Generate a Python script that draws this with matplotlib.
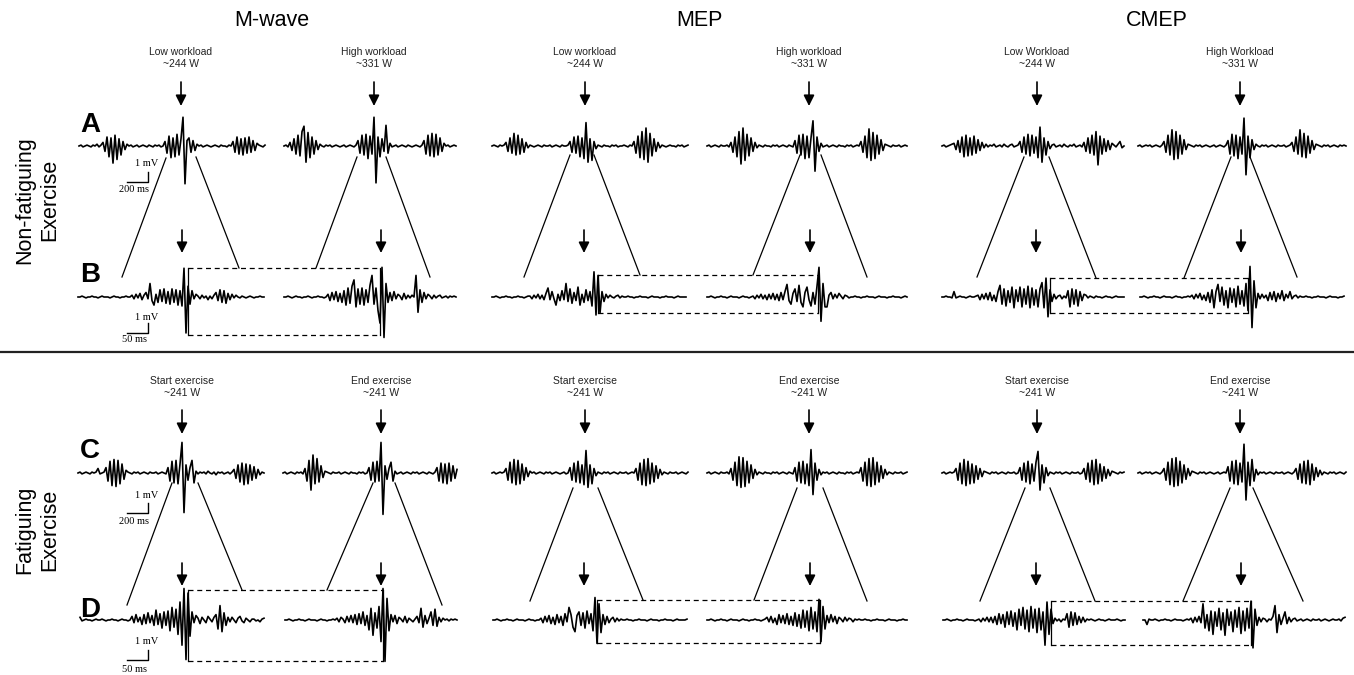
import numpy as np
import matplotlib.pyplot as plt

plt.rcParams['font.family'] = ['Liberation Sans', 'DejaVu Sans']

# --- labels ---
columns = ['M-wave', 'MEP', 'CMEP']
row_names = ['Non-fatiguing\nExercise', 'Fatiguing\nExercise']
panel_letters = ['A', 'B', 'C', 'D']
top_labels = ['Low workload\n~244 W', 'High workload\n~331 W',
              'Low workload\n~244 W', 'High workload\n~331 W',
              'Low Workload\n~244 W', 'High Workload\n~331 W']
bottom_labels = ['Start exercise\n~241 W', 'End exercise\n~241 W'] * 3

# --- EMG traces (mV), row A/C: 20 ms per sample, row B/D: 5 ms per sample ---
mw_low_a = [0, .1, -.1, 0, .1, 0, -.1, .1, 0, .2, -.1, .1,
            .4, -.6, 1.0, -1.2, .9, -1.9, 1.2, -1.5, .8, -1.0, .5, -.4, .2,
            0, .1, -.1, 0, .1, -.1, 0, .1, 0, -.1, .1, 0, -.1, .1, 0, .1, -.1, 0,
            .5, -.8, 1.1, -1.3, .9, -1.2, 1.3, -1.0, .8, 3.2, -4.2, .6,
            .9, -.7, .6, -.5, .2,
            0, .1, -.1, 0, .1, 0, -.1, 0, .1, 0, -.1, .1, 0, 0, -.1, .1, 0,
            .5, -.7, 1.0, -.9, .8, -1.0, .9, -.8, 1.0, -.7, .6, -.5, .3,
            .1, 0, -.1, .1]
mw_high_a = [0, .1, -.1,
             .4, -.5, .8, -.9, 1.2, -1.1, 1.6, 2.2, -1.8, 1.5, -1.3, 1.0, -.9, .6, -.4, .2,
             0, -.1, .1, 0, .1, -.1, 0, .1, 0, -.1, 0, .1, -.1, 0, .1, 0, -.1, .1,
             .6, -.8, 1.2, -1.0, 1.3, -1.4, 1.1, -.9, 3.2, -4.1, 1.0, -1.2, .8, -.6, 2.3, -.8,
             .3, -.1, 0, .1, -.1, 0, .1, 0, -.1, .1, 0, -.1, 0, .1, 0, -.1, .1,
             .6, -.9, 1.2, -1.1, 1.4, -1.2, 1.3, -1.0, .9, -.6, .3,
             0, .1, -.1, 0, .1, 0]
mep_low_a = [0, .1, 0, -.1, .1, 0, .1,
             .4, -.6, .9, -.8, 1.4, -1.0, 1.2, -.9, .8, -.7, .4, -.2,
             .1, 0, -.1, 0, .1, 0, -.1, .1, 0, 0, .1, -.1, 0, .1, 0, -.1, .1, 0, 0, .1,
             .5, -.7, 1.0, -.8, 1.1, -1.2, .9, -1.4, 2.6, -1.8, .8, -1.6, .5, -.3,
             .1, 0, -.1, .1, 0, 0, -.1, .1, 0, .1, -.1, 0, 0, .1, 0, -.1, .1, 0,
             .5, -.8, 1.1, -1.3, 1.6, -1.5, 2.0, -1.8, 1.4, -1.1, .8, -.6, .4, -.2,
             .1, 0, -.1, 0, .1, 0, 0, -.1, .1, 0, .1, -.1, 0, .1]
mep_high_a = [0, .1, -.1, 0, .1, 0, -.1, .1, 0, 0, .1, -.1,
              .4, -.7, 1.0, -1.2, 1.6, -2.0, 2.0, -1.6, 1.3, -1.1, .9, -.6, .4, -.2,
              .1, 0, -.1, .1, 0, 0, -.1, .1, 0, .1, -.1, 0, .1, 0, -.1, .1, 0, -.1,
              .6, -.8, 1.2, -1.0, 1.3, -1.4, 1.1, -1.3, .9, 2.8, -2.8, 1.0, -.6,
              .3, -.1, 0, .1, -.1, 0, .1, 0, -.1, .1, 0, 0, -.1, .1, 0, .1, -.1, 0, .1, 0,
              .5, -.7, 1.1, -1.3, 1.9, -1.6, 1.5, -1.4, 1.2, -.9, .7, -.5, .2,
              .1, 0, -.1, .1, 0, 0, .1, -.1, 0, .1, 0]
cmep_low_a = [0, .1, -.1, 0, .1, .2,
              .3, -.4, .6, -.7, 1.0, -1.2, 1.2, -1.1, .9, -1.0, 1.1, -.8, .7, -.5, .4, -.2,
              .2, -.1, .1, 0, .2, -.1, 0, .1, -.1, .2, 0, -.1, .1, .2, -.1, 0, .1,
              .5, -.7, 1.0, -.9, 1.3, -1.1, 1.2, -.8, 1.0, -1.3, 2.1, -1.8, .9, -1.0, .5, -.3,
              .1, .2, -.1, 0, .1, -.1, .2, 0, -.1, .1, 0, .2, -.1, 0, .1, -.1,
              .4, -.6, .9, -.8, 1.2, -1.0, 1.6, -2.1, 1.1, -.9, .8, -.6, .6, -.4, .3,
              .1, -.1, .2, .5, -.2, 0]
cmep_high_a = [0, .1, -.1, 0, .1, 0, .1, -.1, 0, .1, 0, -.1, .1,
               .5, -.7, 1.2, -1.0, 1.8, -1.5, 1.6, -1.4, 1.2, -.9, .7, -.4, .2,
               .1, 0, -.1, .1, 0, .1, -.1, 0, .1, 0, -.1, 0, .1, -.1, 0, .1, 0, -.1, .1,
               .6, -.9, 1.3, -1.1, 1.2, -1.4, 1.0, -.9, 3.1, -3.2, 1.1, -1.3, .7, -.4,
               .2, 0, -.1, .1, 0, .1, -.1, 0, .1, 0, -.1, .1, 0, 0, .1, -.1, 0, .1,
               .4, -.6, 1.0, -.9, 1.8, -1.2, 1.4, -1.3, 1.1, -.8, .6, -.4, .2,
               .1, 0, -.1, .1, 0, .1, -.1, 0, .1, 0, -.1, .1, 0, .1, 0]

mw_low_b = [0, 0, .1, 0, -.1, 0, 0, .1, 0, 0, -.1, 0, .1, 0, 0, 0, -.1, 0, .1, 0, 0, -.1, 0, 0, .1, 0, 0,
            .2, -.2, .3, -.1, .4, -.3, .2, .5, -.2,
            1.5, -.4, -.9, .3, -.6, .8, -.5, .9, -.7, .6,
            -.8, .9, -.6, .8, -.9, .7, -1.0,
            3.2, -4.0, 1.2, -.8,
            .7, -.2, .3, .1, -.2, .2, -.1, .1, -.3, .1, -.2, .2,
            .5, -.4, .8, -.6, .7, -.7, .4, -.3, .3,
            -.1, .2, 0, -.1, .1, 0, -.1, 0, .1, 0, -.1, 0, 0, .1, 0, 0]
mw_high_b = [0, 0, .1, 0, -.1, 0, .1, 0, 0, -.1, 0, 0, .1, 0, -.1, 0, 0, .1, 0, 0, -.1, 0,
             .3, -.4, .5, -.3, .6, -.5, .4, -.6, .7,
             -.9, 1.0, -.7, 1.2, 1.9, -1.1, .9, -.8, 1.0, -.9, .8, -.6, 1.3,
             2.4, -.8, 1.0, -1.5, -2.9, 3.3, -4.5, 1.5, -.6,
             .5, -.4, .6, -.2, .3, .1, -.3, .4, -.2, .2,
             -.1, .2, 0,
             2.4, -1.7, .8, -.6, .5,
             -.2, .3, .1, -.2, .2, -.1, .1, .2, -.1, 0, .1, -.1, .1, 0, .1, 0]
mep_low_b = [0, 0, .1, 0, -.1, 0, 0, .1, 0, 0, -.1, 0, 0, .1, 0, 0, -.1, 0, .1,
             .1, -.2, .2, -.1, .3, -.2, .2, -.3, .4,
             1.0, -.3, .6, -.2, -.9, .3, -.4, .7, -.3, 1.5, -.5, .9, -.7, .5, -.4,
             1.1, -.9, .3, -.6, .8, -.4, .6, -1.0,
             2.8, -2.0, 2.4, -1.8, .6, -.5,
             .3, -.1, .2, 0, -.1, .1, .2, -.1, .1, 0,
             0, .1, 0, 0, -.1, 0, 0, .1, 0, 0, 0, -.1, 0, .1, 0, 0, 0, -.1, 0, 0, .1, 0, 0, 0,
             -.1, 0, .1, 0, 0, 0, 0]
mep_high_b = [0, 0, .1, 0, -.1, 0, 0, .1, 0, 0, -.1, 0, .1, 0, 0, 0, -.1, 0, .1, 0, 0, -.1, 0,
              .1, -.2, .2, -.1, .3, -.2, .2, -.3, .3, -.2, .4, -.3, .3, -.4, .5, -.3,
              .6, 1.4, -.4, -.8, .4, .9, -.5, 1.3, -.6, -1.1, .5, 1.1, -.3, -1.0, .5, -.8, 1.2,
              3.3, -2.7, 1.5, -1.1, -1.1, .2, .5, -.2, .3, -.1, .4, .1, -.2, .2, .1, -.1,
              0, 0, .1, 0, 0, -.1, 0, 0, .1, 0, 0, 0, -.1, 0, .1, 0, 0, 0, -.1, 0, 0, .1, 0, 0,
              0, -.1, 0, .1, 0]
cmep_low_b = [0, 0, .1, 0, 0, -.1,
              .6, -.1,
              0, .1, 0, 0, -.1, 0, .1, 0, 0, .1,
              .2, -.3, .3, -.2, .4, -.3, .5, -.4, .2, -.5,
              .6, 1.3, -.8, .9, -1.0, .7, -.6, 1.1, -1.2, .8, -.5, 1.1, -1.1, .9, -.8, 1.2,
              -1.2, 1.0, -.9, .8, -1.1, .9, 1.6,
              -1.2, 2.1, -2.2, .8, -.5,
              .3, -.2, .1, .2, -.2, .1, -.1,
              .7, -1.1, .9, -.8, .8, -1.0, .6, -.4, .3,
              .2, -.1, .1, 0, -.1, .1, 0, 0, -.1, 0, .1, 0, 0, -.1, 0, .1, 0, 0, 0, 0]
cmep_high_b = [0, 0, .1, 0, -.1, 0, 0, .1, 0, 0, -.1, 0, .1, 0, 0, 0, -.1, 0, .1, 0, 0, -.1, 0, 0, .1, 0,
               .2, -.2, .3, -.1, .4, -.3, .2, -.4, .5,
               -.6, .8, -1.2, .6, 1.4, -.5, 1.1, -.9, .7, -1.2, 1.0, -.6, .9, -1.1, 1.2, -.8,
               .7, -1.0, 1.5,
               -1.5, 3.4, -3.4, 1.8, -1.2,
               .4, -.2, .3, -.1, .2, -.4, .5, -.3, .6, -.5, .4, -.2, .7, -.4, .3, -.1, .6, -.2,
               .1, .2, -.1, .1,
               0, 0, .1, 0, 0, -.1, 0, 0, .1, 0, 0, 0, -.1, 0, .1, 0, 0, 0, -.1, 0, 0, .1]

mw_start_c = [0, .1, -.1, 0, .1, 0, -.1, .1, 0, .1, .5, -.1, 0, .1,
              .6, -.9, 1.3, -1.4, 1.5, -1.5, 1.4, -1.2, 1.0, -.7, .3,
              .1, 0, -.1, .1, 0, .1, -.1, 0, .1, 0, -.1, .1, 0, 0, .1, -.1, 0, .1, 0, -.1,
              .6, -.9, 1.3, -1.1, 1.4, -1.2, 1.0, 3.4, -4.4, .9, -.8, .6, 1.4, -1.1,
              .2, -.1, .1, 0, .1, -.1, .2, 0, -.1, .1, -.2, .1, 0, .1, -.1, 0, .1, -.1, .1,
              .4, -.6, .9, -1.0, 1.1, -1.3, 1.0, -1.2, .9, -.8, .7, -.6, .4, -.2,
              .1, 0]
mw_end_c = [0, .1, -.1, 0, .1, 0, -.1, .1, 0, .1, -.1,
            .5, -.9, 1.4, -1.9, 2.0, -1.2, 1.6, -1.0, .8, -.5, .2,
            .1, 0, -.1, .1, 0, 0, .1, -.1, 0, .1, 0, -.1, .1, 0, 0, -.1, .1, 0, .1, -.1, 0,
            .6, -.8, 1.2, -1.0, 1.3, -.9, 3.4, -4.6, .8, -.7, .5, 1.2, -.9,
            .2, -.1, 0, .1, -.1, 0, .1, 0, -.1, .1, 0, .1, -.1, 0, .1, 0, -.1, .1, 0, -.1, .1,
            .6, -.9, 1.1, -1.1, 1.0, -1.2, 1.1, -.9, .8, -.6, .4]
mep_start_c = [0, .1, -.1, 0, .1, 0, .1,
               .5, -.8, 1.2, -1.1, 1.5, -1.3, 1.4, -1.2, 1.0, -.8, .6, -.4, .2,
               0, .1, -.1, 0, .1, 0, -.1, .1, 0, .1, -.1, 0, .1, 0, -.1, 0, .1, -.1, 0,
               .6, -.8, 1.1, -1.0, 1.3, -1.1, .9, -1.3, 2.5, -1.6, .9, -1.2, .5, -.3,
               .1, 0, -.1, .1, 0, .1, -.1, 0, .1, 0, -.1, .1, 0, 0, .1, -.1, 0, .1, 0,
               .5, -.8, 1.1, -1.3, 1.5, -1.4, 1.6, -1.2, 1.1, -1.0, .8, -.6, .4, -.2,
               .1, 0, -.1, .1, 0, 0, .1, -.1, 0, .1, 0, -.1, .1]
mep_end_c = [0, .1, -.1, 0, .1, 0, -.1, .1, 0, 0, .1, -.1,
             .5, -.8, 1.2, -1.4, 1.8, -1.6, 1.7, -1.5, 1.3, -1.1, .9, -.6, .4, -.2,
             .1, 0, -.1, .1, 0, 0, -.1, .1, 0, .1, -.1, 0, .1, 0, -.1, .1, 0, -.1,
             .6, -.9, 1.2, -1.1, 1.3, -1.2, 1.0, -1.4, 2.6, -2.4, 1.1, -.8, .4,
             -.2, .1, 0, .1, -.1, 0, .1, 0, -.1, .1, 0, 0, -.1, .1, 0, .1, -.1, 0, .1, 0,
             .6, -.9, 1.2, -1.4, 1.6, -1.5, 1.7, -1.3, 1.2, -1.0, .8, -.6, .4, -.2,
             .1, 0, -.1, .1, 0, 0, .1, -.1, 0, .1]
cmep_start_c = [0, .1, -.1, 0, .1, 0, .1,
                .5, -.8, 1.1, -1.2, 1.5, -1.4, 1.3, -1.2, 1.0, -1.1, .8, -.7, .5, -.4, .2,
                .1, 0, -.1, .1, 0, .1, -.1, 0, .1, 0, -.1, .1, 0, 0, .1, -.1, 0,
                .6, -.8, 1.1, -1.0, 1.3, -1.2, 1.0, -.9, 1.2, 2.4, -1.9, .9, -1.1, .6, -.3,
                .1, 0, -.1, .1, 0, .1, -.1, 0, .1, 0, -.1, .1, 0, 0, .1, -.1, 0,
                .5, -.7, 1.1, -1.0, 1.4, -1.3, 1.5, -1.2, 1.0, -.9, .7, -.6, .4, -.3, .2,
                .1, 0, -.1, .1, 0, .1]
cmep_end_c = [0, .1, -.1, 0, .1, 0, .1, -.1, 0, .1, 0, -.1, .1,
              .5, -.8, 1.2, -1.3, 1.6, -1.5, 1.7, -1.4, 1.3, -1.1, .9, -.7, .5, -.3, .2,
              .1, 0, -.1, .1, 0, .1, -.1, 0, .1, 0, -.1, 0, .1, -.1, 0, .1, 0,
              .7, -.9, 1.3, -1.2, 1.4, -1.3, 1.1, -1.0, 3.2, -3.0, 1.2, -1.4, 1.5, -.9, .4,
              -.2, .1, 0, .1, -.1, 0, .1, 0, -.1, .1, 0, 0, .1, -.1, 0, .1, 0, -.1, .1,
              .5, -.7, 1.0, -1.1, 1.3, -1.2, 1.4, -1.3, 1.0, -.8, .6, -.4, .3, -.2,
              .1, 0, -.1, .1, 0, .1, -.1, 0, .1, 0, -.1, .1]

mw_start_d = [.3, -.1, 0, .1, 0, 0, -.1, 0, .1, 0, 0, .1, 0, -.1, 0, 0, .1, 0, 0, -.1, 0, .1, 0, 0, -.1, 0,
              .4, -.3, .6, -.2, .3, -.5, .6, -.4, .8, -.3, .5, -.6, 1.1, -.5, .7, -.9, .9, -.6, 1.0, -1.2,
              1.4, -.8, 1.2, -1.6,
              2.0, -2.8, 3.5, -4.4, 3.0, -1.8, .9,
              -.3, .5, .2, -.4, .3, 0, -.3, .4, .1, -.2, .3,
              .6, -1.0, 1.6, -1.3, .8, -.6, .3,
              -.2, .3, 0, -.3, .2, .4, -.1, -.3, .2, 0, -.2, .1, .1, -.1, 0, -.2, .1, .2]
mw_end_d = [0, 0, .1, 0, -.1, 0, 0, .1, 0, 0, -.1, 0, .1, 0, 0, 0, -.1, 0, .1, 0, 0, -.1, 0, 0, .1, 0,
            .2, -.2, .3, .1, -.3, .4, -.2, .5, -.3, .6,
            -.5, .7, -.4, .9, -.6, .5, -1.1, 1.3,
            -1.7, .8, -.9, 1.5, -2.4, 3.5, -4.6, 2.4, -1.2, .6,
            -.2, .5, -.4, .3, .1, -.2, .4, -.3, .2, 0, -.2, .1,
            .4, -.3, 1.3, -.8, .5, -.4, .2, .9, -.6, 1.2, -.7, .3,
            -.2, .2, 0, .1, -.1, .1, 0, .1, 0]
mep_start_d = [0, 0, .1, 0, -.1, 0, 0, .1, 0, 0, -.1, 0, .1, 0, 0, 0, -.1, 0, .1, 0, 0, -.1, 0, 0,
               .2, -.3, .4, -.2, .5, -.4, .3, -.5, .6, -.3, .4, -.6, .7, -.2,
               1.4, .6, -.8, -1.3, .5, .9, -.6, .8, -.9, 1.0, -.4, .7, -1.2,
               2.5, -2.6, 1.8, -1.4, .6,
               -.5, .4, -.3, .1, .3, -.2, .2, -.1, .1, 0,
               0, .1, 0, 0, -.1, 0, 0, .1, 0, 0, 0, -.1, 0, .1, 0, 0, 0, -.1, 0, 0, .1, 0, 0, 0,
               -.1, 0, .1, 0, 0, 0, 0, .1]
mep_end_d = [0, 0, .1, 0, -.1, 0, 0, .1, 0, 0, -.1, 0, .1, 0, 0, 0, -.1, 0, .1, 0, 0, -.1, 0, 0, .1,
             0, 0, -.1, 0, .1,
             .3, -.2, .4, -.3, .2, -.5, .6, -.3, .5, -.4, .7, -.5, .4, -.6, .8, -.7, .6,
             -.9, 1.1, -.8, 1.0, -1.2, 1.4, -1.0, .9, -1.3,
             2.3, -2.4, 1.5, -1.0, .5,
             -.3, .6, -.2, .4, -.4, .3, .1, -.2, .3, -.1, .2, .1, -.2, .1, 0, .1,
             0, 0, .1, 0, 0, -.1, 0, 0, .1, 0, 0, 0, -.1, 0, .1, 0, 0, 0, -.1, 0, 0, .1, 0, 0]
cmep_start_d = [0, 0, .1, 0, -.1, 0, 0, .1, 0, 0, -.1, 0, .1, 0, 0, 0, -.1, 0,
                .1, -.2, .2, -.1, .3, -.2, .3, -.3,
                .4, -.5, .7, -.4, .6, -.8, .9, -.5, 1.0, -.7, .8, -1.1, 1.2, -.6, 1.4, -1.0, 1.1,
                -1.3, 1.5, -.9, 1.2, -1.4, 1.3, -1.1, .9,
                -2.8, 2.0, -1.6, 1.2, -.4,
                .2, -.1, .1, -.2, .1, 0,
                .7, -.8, .9, -.6, .8, -.5, .4, -.3,
                .3, -.2, .1, 0, .1, 0, -.1, 0, .1, 0, 0, -.1, 0, .1, 0, 0, 0, .1, 0, -.1, 0, 0]
cmep_end_d = [0, 0, -.5, .1, 0, 0, .1, 0, -.1, 0, 0, .1, 0, 0, -.1, 0, .1, 0, 0, 0, -.1, 0, .1, 0,
              .2, -.3, .3, -.2, .4, -.3,
              1.8, -.9,
              .6, -1.2, 1.0, -1.6, .9, -.7, 1.3, -1.1, .8, -1.7, 1.2, -.6, .9, -1.3, 1.1, -.8,
              1.4, -1.5, 1.0, -1.2, 1.3, -.9,
              2.1, -3.1, 1.2, -.6,
              .3, -.2, .2, .1, -.2, .1, 0,
              .4, 1.6, -1.4, .6, -.5, .2, .9, -.4, .3, -.2,
              .1, .2, -.1, 0, .1, -.1, 0, .1, 0, -.1, .1, 0, 0, .1, -.1, 0, .1, 0, -.1, 0, .1,
              0, 0, .1, -.1, .2, .3]

row_a = [mw_low_a, mw_high_a, mep_low_a, mep_high_a, cmep_low_a, cmep_high_a]
row_b = [mw_low_b, mw_high_b, mep_low_b, mep_high_b, cmep_low_b, cmep_high_b]
row_c = [mw_start_c, mw_end_c, mep_start_c, mep_end_c, cmep_start_c, cmep_end_c]
row_d = [mw_start_d, mw_end_d, mep_start_d, mep_end_d, cmep_start_d, cmep_end_d]

# --- layout (figure pixels) ---
PX_PER_MV = 9.0
STEP = 2.0
rows = [
    dict(data=row_a, y=146, x0=[79, 284, 492, 707, 942, 1138], lw=1.2),
    dict(data=row_b, y=297, x0=[78, 284, 492, 707, 942, 1140], lw=1.2),
    dict(data=row_c, y=473, x0=[78, 283, 492, 707, 942, 1138], lw=1.2),
    dict(data=row_d, y=620, x0=[80, 285, 493, 707, 943, 1143], lw=1.2),
]
arrow_x = [[181, 374, 585, 809, 1037, 1240], [182, 381, 584, 810, 1036, 1241],
           [182, 381, 585, 809, 1037, 1240], [182, 381, 584, 810, 1036, 1241]]
arrow_y = [(82, 106), (230, 253), (410, 434), (563, 586)]
zoom_lines = [
    (166, 158, 122, 277), (196, 157, 239, 268), (357, 157, 316, 268), (386, 157, 430, 277),
    (570, 155, 524, 277), (594, 155, 640, 275), (800, 155, 753, 275), (821, 155, 867, 277),
    (1024, 157, 977, 277), (1049, 157, 1096, 278), (1231, 157, 1184, 278), (1250, 157, 1297, 277),
    (172, 483, 127, 605), (198, 483, 242, 590), (373, 483, 327, 590), (395, 483, 442, 605),
    (573, 488, 530, 601), (598, 488, 643, 600), (797, 488, 754, 600), (823, 488, 867, 601),
    (1025, 488, 980, 601), (1050, 488, 1095, 601), (1230, 488, 1183, 601), (1253, 488, 1303, 601),
]
rects = [(188, 380, 268, 335), (598, 818, 275, 313), (1050, 1248, 278, 313),
         (188, 383, 590, 661), (597, 820, 600, 643), (1051, 1251, 601, 645)]

fig = plt.figure(figsize=(13.54, 6.75), dpi=100)
ax = fig.add_axes([0, 0, 1, 1])
ax.set_xlim(0, 1354)
ax.set_ylim(675, 0)
ax.axis('off')

for r in rows:
    for vals, x0 in zip(r['data'], r['x0']):
        v = np.array(vals, dtype=float)
        xs = x0 + STEP * np.arange(len(v))
        ax.plot(xs, r['y'] - v * PX_PER_MV, color='black', lw=r['lw'])

for xs, (ya, yb) in zip(arrow_x, arrow_y):
    for x in xs:
        ax.annotate('', xy=(x, yb), xytext=(x, ya),
                    arrowprops=dict(arrowstyle='-|>', color='black', lw=1.2,
                                    mutation_scale=16, shrinkA=0, shrinkB=0))

for x1, y1, x2, y2 in zoom_lines:
    ax.plot([x1, x2], [y1, y2], color='black', lw=0.9)

for xl, xr, yt, yb in rects:
    ax.plot([xl, xr], [yt, yt], color='black', lw=0.9, ls=(0, (4, 3)))
    ax.plot([xl, xr], [yb, yb], color='black', lw=0.9, ls=(0, (4, 3)))
    ax.plot([xl, xl], [yt, yb], color='black', lw=0.9)
    ax.plot([xr, xr], [yt, yb], color='black', lw=0.9)

# titles and labels
for x, t in zip([272, 699, 1157], columns):
    ax.text(x, 21, t, fontsize=15.5, ha='center', va='center')
for x, t in zip(arrow_x[0], top_labels):
    ax.text(x, 58, t, fontsize=7.5, ha='center', va='center', color='#222222', linespacing=1.15)
for x, t in zip(arrow_x[2], bottom_labels):
    ax.text(x, 387, t, fontsize=7.5, ha='center', va='center', color='#222222', linespacing=1.15)

for y, t in zip([200, 530], row_names):
    ax.text(37, y, t, fontsize=15.5, rotation=90, ha='center', va='center', linespacing=1.25)

for y, t in zip([125, 275, 451, 610], panel_letters):
    ax.text(90, y, t, fontsize=20, fontweight='bold', ha='center', va='center')

# scale bars
scale_bars = [(164, 172, 182, '200 ms', 189), (317, 323, 333, '50 ms', 340),
              (496, 503, 513, '200 ms', 521), (642, 650, 660, '50 ms', 669)]
for ytxt, yb0, yb1, tlab, ytl in scale_bars:
    ax.plot([127, 148, 148], [yb1, yb1, yb0], color='black', lw=1.0)
    ax.text(147, ytxt, '1 mV', fontsize=7.5, family='Liberation Serif', ha='center', va='center')
    ax.text(134, ytl, tlab, fontsize=7.5, family='Liberation Serif', ha='center', va='center')

ax.plot([0, 1354], [352, 352], color='#222222', lw=1.6)

fig.savefig('out.png', dpi=100)
